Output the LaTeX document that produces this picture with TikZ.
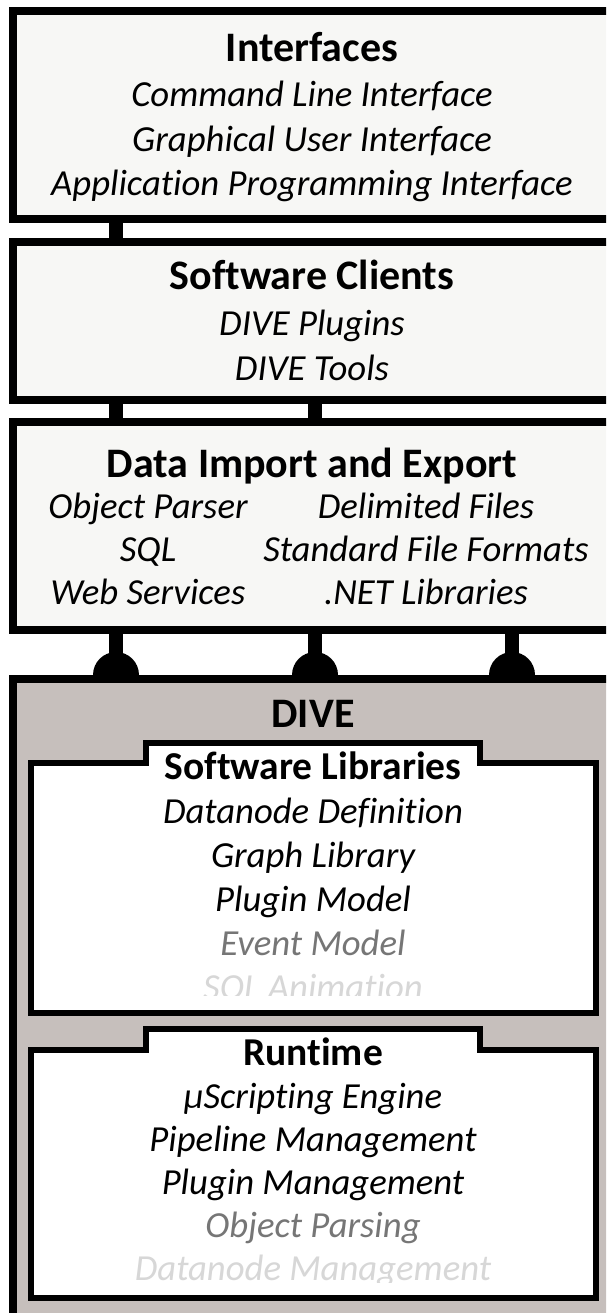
\documentclass[tikz,border=0pt]{standalone}
\usepackage{fontspec}
\setmainfont{Carlito}[Ligatures=NoCommon]
\definecolor{boxbg}{RGB}{247,247,245}
\definecolor{divebg}{RGB}{198,191,188}
\definecolor{fadeA}{RGB}{118,118,118}
\definecolor{fadeB}{RGB}{215,215,215}
\begin{document}
\begin{tikzpicture}[x=1pt,y=-1pt,
  box/.style={draw=black,line width=8pt,fill=boxbg,rectangle,inner sep=0pt,minimum width=598pt},
  bar/.style={draw=black,line width=14pt},
  dome/.style={fill=black},
  ttl/.style={anchor=base,inner sep=0pt,font=\fontsize{42}{50}\selectfont\bfseries},
  ptl/.style={anchor=base,inner sep=0pt,font=\fontsize{39.5}{48}\selectfont\bfseries},
  itm/.style={anchor=base,inner sep=0pt,font=\fontsize{36.7}{44}\selectfont\itshape},
  panel/.style={draw=black,line width=6pt,fill=white,line join=miter}
]
\useasboundingbox (0,0) rectangle (606,1313);
\clip (0,0) rectangle (606,1313);
% layer boxes
\node[box,minimum height=208pt] (b1) at (312,115) {};
\node[box,minimum height=158pt] (b2) at (312,321) {};
\node[box,minimum height=208pt] (b3) at (312,526) {};
\node[box,fill=divebg,minimum height=660pt] (dive) at (312,1009) {};
% connector positions
\coordinate (cA) at (116,0);
\coordinate (cB) at (315,0);
\coordinate (cC) at (512,0);
\draw[bar] (cA |- b1.south) -- (cA |- b2.north);
\draw[bar] (cA |- b2.south) -- (cA |- b3.north);
\draw[bar] (cB |- b2.south) -- (cB |- b3.north);
\foreach \c in {cA,cB,cC}{
  \draw[bar] (\c |- b3.south) -- (\c |- dive.north);
  \fill[dome] (\c |- dive.north) ++(-23pt,0) arc[start angle=180,end angle=0,radius=23pt] -- cycle;
}
% inner panels
\draw[panel] (30.5,763) -- (146,763) -- (146,743) -- (480,743) -- (480,763) -- (595.5,763) -- (595.5,1013) -- (30.5,1013) -- cycle;
\draw[panel] (30.5,1050) -- (146,1050) -- (146,1029) -- (480,1029) -- (480,1050) -- (595.5,1050) -- (595.5,1298) -- (30.5,1298) -- cycle;
% texts box 1
\node[ttl] (t1) at (312,62) {Interfaces};
\node[itm] (t1a) at (312,107) {Command Line Interface};
\node[itm] (t1b) at (312,152) {Graphical User Interface};
\node[itm] (t1c) at (312,196) {Application Programming Interface};
% box 2
\node[ttl] (t2) at (312,290) {Software Clients};
\node[itm] (t2a) at (312,335) {DIVE Plugins};
\node[itm] (t2b) at (312,380) {DIVE Tools};
% box 3
\node[ttl] (t3) at (312,477) {Data Import and Export};
\node[itm] (t3a) at (148,518) {Object Parser};
\node[itm] (t3b) at (426,518) {Delimited Files};
\node[itm] (t3c) at (148,561) {SQL};
\node[itm] (t3d) at (426,561) {Standard File Formats};
\node[itm] (t3e) at (148,604) {Web Services};
\node[itm] (t3f) at (426,604) {.NET Libraries};
% DIVE
\node[ttl] (t4) at (313,727) {DIVE};
\node[ptl] (t5) at (313,779) {Software Libraries};
\node[itm] (t5a) at (313,823) {Datanode Definition};
\node[itm] (t5b) at (313,867) {Graph Library};
\node[itm] (t5c) at (313,911) {Plugin Model};
\node[itm,text=fadeA] (t5d) at (313,955) {Event Model};
\begin{scope}
  \clip (40,960) rectangle (590,995);
  \node[itm,text=fadeB] (t5e) at (313,999) {SQL Animation};
\end{scope}
\node[ptl] (t6) at (313,1065) {Runtime};
\node[itm] (t6a) at (313,1108) {µScripting Engine};
\node[itm] (t6b) at (313,1151) {Pipeline Management};
\node[itm] (t6c) at (313,1194) {Plugin Management};
\node[itm,text=fadeA] (t6d) at (313,1237) {Object Parsing};
\begin{scope}
  \clip (40,1245) rectangle (590,1282);
  \node[itm,text=fadeB] (t6e) at (313,1280) {Datanode Management};
\end{scope}
\end{tikzpicture}
\end{document}
